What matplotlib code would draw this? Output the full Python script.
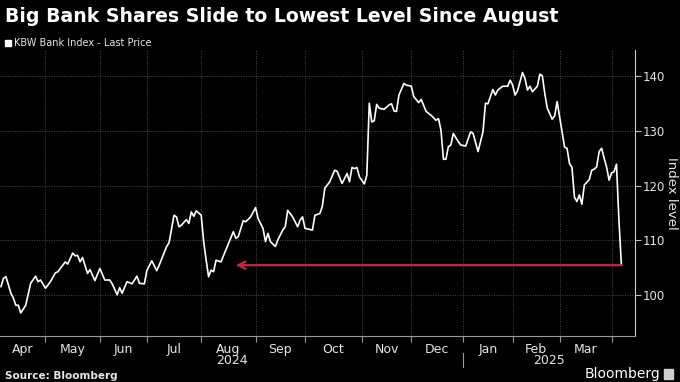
import pandas as pd
import matplotlib
matplotlib.use("Agg")
import matplotlib.pyplot as plt
from matplotlib.patches import Rectangle
from matplotlib.transforms import blended_transform_factory

# KBW Bank Index - last price
dates = [
    "2024-04-05", "2024-04-08", "2024-04-09", "2024-04-11", "2024-04-12", "2024-04-15",
    "2024-04-16", "2024-04-17", "2024-04-19", "2024-04-23", "2024-04-25", "2024-04-26",
    "2024-04-29", "2024-05-01", "2024-05-03", "2024-05-07", "2024-05-08", "2024-05-13",
    "2024-05-14", "2024-05-16", "2024-05-17", "2024-05-20", "2024-05-21", "2024-05-22",
    "2024-05-24", "2024-05-28", "2024-05-30", "2024-06-03", "2024-06-05", "2024-06-07",
    "2024-06-10", "2024-06-12", "2024-06-13", "2024-06-14", "2024-06-18", "2024-06-21",
    "2024-06-25", "2024-06-26", "2024-06-28", "2024-07-01", "2024-07-03", "2024-07-08",
    "2024-07-09", "2024-07-12", "2024-07-15", "2024-07-17", "2024-07-18", "2024-07-19",
    "2024-07-22", "2024-07-24", "2024-07-25", "2024-07-26", "2024-07-29", "2024-07-30",
    "2024-08-01", "2024-08-02", "2024-08-05", "2024-08-06", "2024-08-07", "2024-08-08",
    "2024-08-09", "2024-08-13", "2024-08-15", "2024-08-20", "2024-08-21", "2024-08-22",
    "2024-08-26", "2024-08-27", "2024-08-29", "2024-09-03", "2024-09-04", "2024-09-06",
    "2024-09-09", "2024-09-10", "2024-09-11", "2024-09-13", "2024-09-16", "2024-09-18",
    "2024-09-19", "2024-09-20", "2024-09-24", "2024-09-26", "2024-09-27", "2024-09-30",
    "2024-10-01", "2024-10-04", "2024-10-07", "2024-10-09", "2024-10-10", "2024-10-11",
    "2024-10-15", "2024-10-17", "2024-10-18", "2024-10-22", "2024-10-24", "2024-10-25",
    "2024-10-28", "2024-10-29", "2024-10-30", "2024-10-31", "2024-11-04", "2024-11-05",
    "2024-11-06", "2024-11-07", "2024-11-08", "2024-11-11", "2024-11-12", "2024-11-14",
    "2024-11-18", "2024-11-19", "2024-11-20", "2024-11-21", "2024-11-22", "2024-11-26",
    "2024-11-27", "2024-12-02", "2024-12-03", "2024-12-05", "2024-12-06", "2024-12-10",
    "2024-12-12", "2024-12-16", "2024-12-17", "2024-12-18", "2024-12-19", "2024-12-20",
    "2024-12-23", "2024-12-24", "2024-12-26", "2024-12-30", "2024-12-31", "2025-01-03",
    "2025-01-07", "2025-01-08", "2025-01-13", "2025-01-15", "2025-01-16", "2025-01-17",
    "2025-01-22", "2025-01-23", "2025-01-24", "2025-01-28", "2025-01-30", "2025-01-31",
    "2025-02-03", "2025-02-04", "2025-02-05", "2025-02-07", "2025-02-10", "2025-02-11",
    "2025-02-12", "2025-02-13", "2025-02-18", "2025-02-19", "2025-02-20", "2025-02-21",
    "2025-02-24", "2025-02-26", "2025-02-27", "2025-02-28", "2025-03-03", "2025-03-05",
    "2025-03-06", "2025-03-07", "2025-03-10", "2025-03-11", "2025-03-12", "2025-03-13",
    "2025-03-14", "2025-03-17", "2025-03-19", "2025-03-20", "2025-03-21", "2025-03-24",
    "2025-03-25", "2025-03-26", "2025-03-27", "2025-03-28", "2025-03-31", "2025-04-01",
    "2025-04-02", "2025-04-03", "2025-04-04", "2025-04-07",
]
prices = [
    101.6, 103.1, 103.4, 100.4, 99.5, 98.2,
    98.2, 96.8, 98.2, 102.2, 103.5, 102.5,
    102.8, 101.3, 102.5, 104.1, 104.3, 106.1,
    105.7, 107.7, 107.2, 107.3, 106.1, 106.9,
    104.0, 104.7, 102.7, 104.9, 102.8, 102.8,
    102.1, 100.1, 101.4, 100.4, 102.5, 102.1,
    103.5, 102.2, 102.1, 104.5, 106.3, 104.5,
    105.5, 108.9, 109.6, 114.6, 114.3, 112.5,
    112.8, 113.8, 113.1, 115.2, 114.4, 115.4,
    114.6, 109.8, 106.4, 103.4, 104.6, 104.3,
    106.4, 106.1, 108.3, 111.6, 110.4, 110.7,
    113.6, 113.4, 114.3, 116.0, 114.0, 112.2,
    109.8, 111.3, 109.8, 108.9, 110.1, 111.9,
    112.5, 115.5, 114.3, 112.5, 113.7, 114.3,
    112.2, 111.9, 114.6, 114.9, 116.2, 119.5,
    120.7, 122.8, 122.6, 120.4, 122.2, 120.7,
    123.3, 123.1, 123.3, 121.6, 120.3, 121.9,
    135.0, 131.6, 131.8, 134.8, 134.1, 133.9,
    134.7, 134.9, 133.6, 133.5, 136.5, 138.6,
    138.3, 138.1, 136.2, 135.1, 135.7, 133.5,
    132.8, 131.9, 132.2, 130.1, 124.8, 124.8,
    127.1, 127.4, 129.5, 128.0, 127.4, 127.2,
    129.8, 129.5, 126.2, 129.8, 135.0, 134.9,
    137.5, 136.5, 137.4, 138.1, 138.1, 139.2,
    138.3, 136.5, 137.3, 140.6, 139.5, 137.4,
    138.1, 137.1, 138.1, 140.3, 140.0, 136.8,
    134.1, 132.1, 132.7, 135.3, 132.5, 127.0,
    126.8, 124.0, 123.3, 117.9, 117.1, 118.3,
    116.6, 120.1, 121.1, 122.8, 123.0, 123.4,
    126.2, 126.8, 125.0, 123.4, 121.0, 122.3,
    122.5, 123.9, 113.7, 105.5,
]
month_labels = ["Apr", "May", "Jun", "Jul", "Aug", "Sep", "Oct", "Nov", "Dec",
                "Jan", "Feb", "Mar"]
year_labels = ["2024", "2025"]
y_ticks = [100, 110, 120, 130, 140]
arrow_back_to = "2024-08-21"

# market holidays, the x axis runs on trading days
holidays = ["2024-05-27", "2024-06-19", "2024-07-04", "2024-09-02", "2024-11-28",
            "2024-12-25", "2025-01-01", "2025-01-09", "2025-01-20", "2025-02-17"]
sessions = pd.bdate_range("2024-04-01", "2025-04-30", freq="C", holidays=holidays)
x = sessions.get_indexer(pd.to_datetime(dates))
arrow_x = sessions.get_indexer(pd.to_datetime([arrow_back_to]))[0]

months = pd.period_range("2024-04", "2025-04", freq="M")
month_start = [int(sessions.get_indexer([sessions[sessions.to_period("M") == m][0]])[0])
               for m in months]

BG = "black"
FG = "#e6e6e6"
GRID = "#4a4a4a"
RED = "#c8283f"

fig = plt.figure(figsize=(6.8, 3.82), dpi=100, facecolor=BG)
ax = fig.add_axes([0, 46 / 382, 635 / 680, 286 / 382], facecolor=BG)

ax.plot(x, prices, color="white", lw=1.2, solid_joinstyle="round", zorder=3)
ax.annotate("", xy=(arrow_x, prices[-1]), xytext=(x[-1], prices[-1]),
            arrowprops=dict(arrowstyle="->", color=RED, lw=1.6, mutation_scale=13,
                            shrinkA=0, shrinkB=0), zorder=4)

x0 = x[0] - 0.4
x1 = x[-1] + 5.5
ax.set_xlim(x0, x1)
ax.set_ylim(92.6, 144.7)

# month boundaries: ticks + grid; labels centred in each month
ax.set_xticks(month_start[1:])
ax.set_xticklabels([])
centers = []
bounds = [x0] + month_start[1:-1] + [month_start[-1]]
for i in range(len(month_labels)):
    centers.append((bounds[i] + bounds[i + 1]) / 2)
ax.set_xticks(centers, minor=True)
ax.set_xticklabels(month_labels, minor=True)
ax.tick_params(axis="x", which="minor", length=0, pad=5, labelsize=9, labelcolor=FG)
ax.tick_params(axis="x", which="major", length=4, color="#9a9a9a", width=0.8)

ax.yaxis.tick_right()
ax.set_yticks(y_ticks)
ax.tick_params(axis="y", length=4, color="#bbbbbb", width=0.8, pad=1.5,
               labelsize=8.5, labelcolor=FG)
fig.text(672 / 680, 1 - 193 / 382, "Index level", rotation=270, color=FG,
         fontsize=9.5, ha="center", va="center")

ax.grid(True, which="major", color=GRID, lw=0.7, linestyle=(0, (1, 1.5)))
ax.set_axisbelow(True)
for side in ["top", "left"]:
    ax.spines[side].set_visible(False)
ax.spines["right"].set_color("#cccccc")
ax.spines["bottom"].set_color("#9a9a9a")

# year labels under the months, with a separator at January
jan = month_start[months.get_loc(pd.Period("2025-01", "M"))]
tr = blended_transform_factory(ax.transData, fig.transFigure)
ax.text((x0 + jan) / 2, 1 - 361 / 382, year_labels[0], transform=tr, ha="center",
        va="center", color=FG, fontsize=9)
ax.text((jan + x1) / 2, 1 - 361 / 382, year_labels[1], transform=tr, ha="center",
        va="center", color=FG, fontsize=9)
ax.plot([jan, jan], [1 - 353 / 382, 1 - 367 / 382], transform=tr, color="#9a9a9a",
        lw=0.8, clip_on=False)

# header / footer
fig.text(5 / 680, 1 - 17 / 382, "Big Bank Shares Slide to Lowest Level Since August",
         color="white", fontsize=13.6, fontweight="bold", va="center")
fig.patches.append(Rectangle((5 / 680, 1 - 46 / 382), 6 / 680, 6 / 382,
                             transform=fig.transFigure, color="white"))
fig.text(14 / 680, 1 - 43 / 382, "KBW Bank Index - Last Price", color=FG,
         fontsize=7, va="center")
fig.text(5 / 680, 1 - 376 / 382, "Source: Bloomberg", color=FG, fontsize=7.5,
         fontweight="bold", va="center")
fig.text(660 / 680, 1 - 374 / 382, "Bloomberg", color="white", fontsize=10,
         ha="right", va="center")
fig.patches.append(Rectangle((664 / 680, 1 - 379 / 382), 9 / 680, 10 / 382,
                             transform=fig.transFigure, color="#cfcfcf"))

fig.savefig("out.png", dpi=100, facecolor=BG)
